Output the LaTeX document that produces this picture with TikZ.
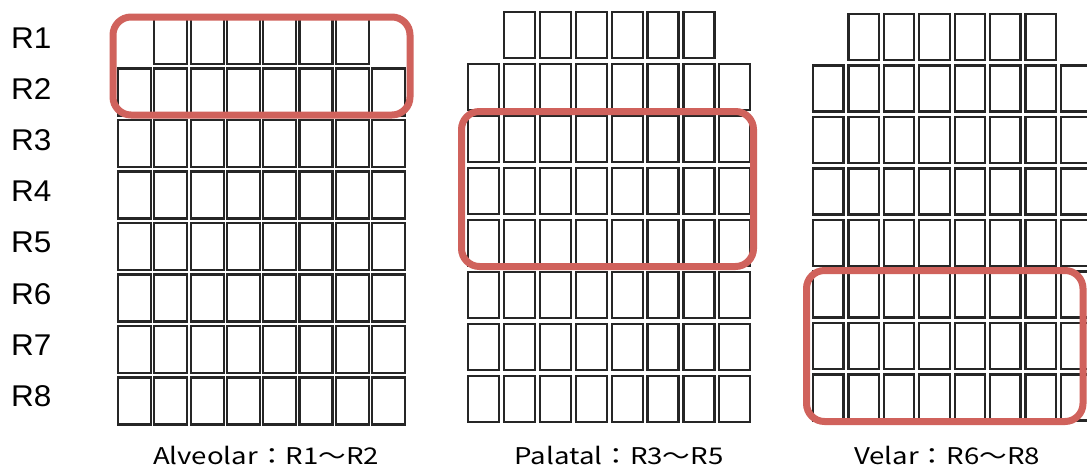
\documentclass[tikz,border=0pt]{standalone}
\usepackage{fontspec}
\setmainfont{Liberation Sans}
\newfontfamily\rowfont[FakeStretch=1.05]{Liberation Sans}
\newfontfamily\jpfont[FakeStretch=1.2]{Noto Sans CJK JP}
\definecolor{redbox}{RGB}{208,98,92}
\newcommand\cellgrid[6]{%
  \foreach \c in {1,...,6} \draw[cell] ({#1+\c*#2},{#4}) rectangle ++(#3,#6);
  \foreach \r in {1,...,7} \foreach \c in {0,...,7} \draw[cell] ({#1+\c*#2},{#4+\r*#5}) rectangle ++(#3,#6);
}
\begin{document}
\begin{tikzpicture}[x=1pt,y=-1pt,
  cell/.style={draw=black!85,line width=2.2pt},
  zone/.style={draw=redbox,line width=7pt,rounded corners=18pt},
  rowlab/.style={font=\rowfont\fontsize{30}{30}\selectfont,anchor=base west,inner sep=0pt},
  caption/.style={font=\jpfont\fontsize{23}{23}\selectfont,anchor=base,inner sep=0pt}]
\useasboundingbox (0,0) rectangle (1087,472);
\clip (0,0) rectangle (1087,472);
\fill[white] (0,0) rectangle (1087,472);
% grids
\cellgrid{118}{36.3}{33}{17}{51.5}{47}
\cellgrid{468}{35.9}{31}{12}{52}{46}
\cellgrid{813}{35.4}{30.5}{14}{51.5}{46}
% zones
\draw[zone] (113,17) rectangle (410,115);
\draw[zone] (461.5,111.5) rectangle (753.5,266.5);
\draw[zone] (806.5,270.5) rectangle (1083,421.5);
% row labels
\foreach \i in {1,...,8}
  \node[rowlab] (r\i) at (11,{48+(\i-1)*51.2}) {R\i};
% captions
\node[caption] (alv) at (266,464) {Alveolar：R1～R2};
\node[caption] (pal) at (619,464) {Palatal：R3～R5};
\node[caption] (vel) at (947,464) {Velar：R6～R8};
\end{tikzpicture}
\end{document}
